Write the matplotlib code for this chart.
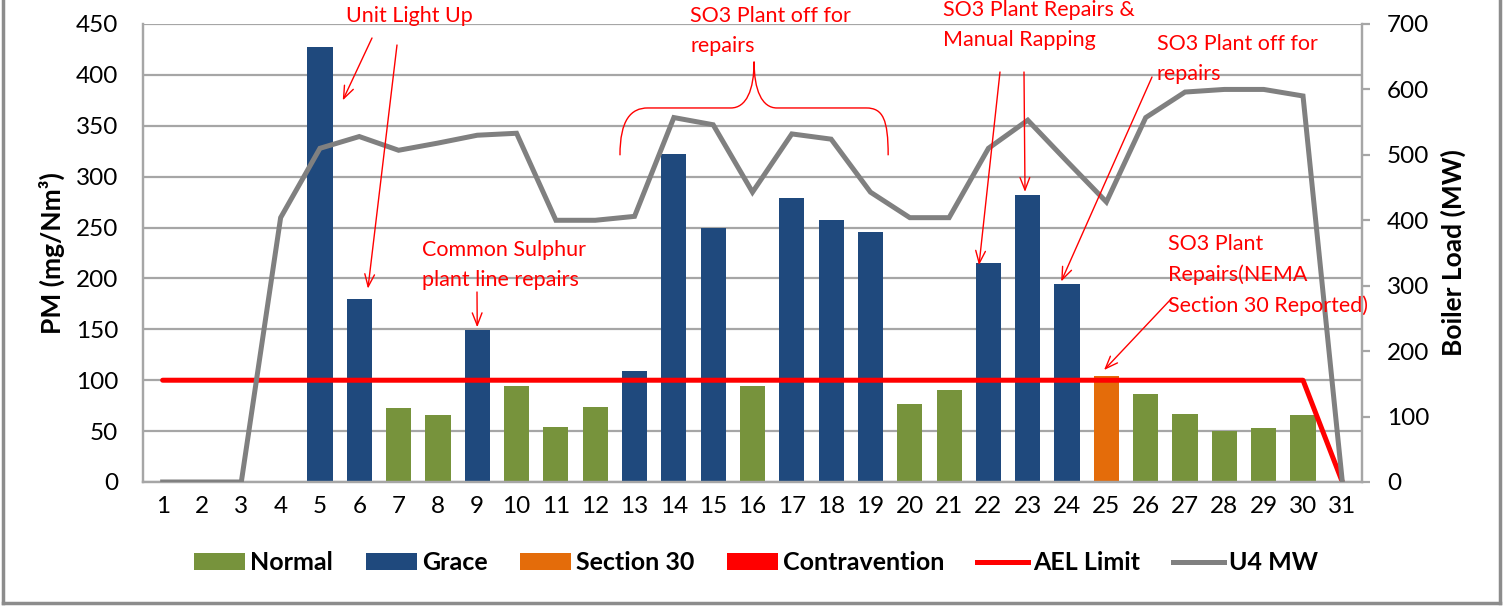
import matplotlib
matplotlib.use("Agg")
import matplotlib.pyplot as plt
import matplotlib.transforms as mtransforms
from matplotlib.lines import Line2D
from matplotlib.patches import Patch, PathPatch
from matplotlib.path import Path
import numpy as np

# ---- data -----------------------------------------------------------------
days = list(range(1, 32))
pm = [0, 0, 0, 0, 427, 180, 73, 66, 149, 94, 54, 74, 109, 322, 250, 94,
      279, 257, 246, 77, 90, 215, 282, 195, 104, 86, 67, 50, 53, 66, 0]
status = ["Normal", "Normal", "Normal", "Normal", "Grace", "Grace", "Normal",
          "Normal", "Grace", "Normal", "Normal", "Normal", "Grace", "Grace",
          "Grace", "Normal", "Grace", "Grace", "Grace", "Normal", "Normal",
          "Grace", "Grace", "Grace", "Section 30", "Normal", "Normal",
          "Normal", "Normal", "Normal", "Normal"]
ael_limit = [100] * 30 + [0]
u4_mw = [0, 0, 0, 404, 510, 528, 507, 518, 530, 533, 400, 400, 406, 557,
         546, 443, 532, 524, 443, 404, 404, 510, 553, 490, 428, 557, 596,
         600, 600, 590, 0]
categories = ["Normal", "Grace", "Section 30", "Contravention"]
cat_colors = {"Normal": "#77933C", "Grace": "#1F497D",
              "Section 30": "#E46C0A", "Contravention": "#FF0000"}

W, H = 1505, 606
plt.rcParams["font.family"] = ["Lato", "DejaVu Sans"]

fig = plt.figure(figsize=(W / 100, H / 100), dpi=100)
ax = fig.add_axes([143 / W, 1 - 482 / H, (1362 - 143) / W, (482 - 24) / H])
ax2 = ax.twinx()

grid_c = "#A6A6A6"

# bars by category
for cat in categories:
    xs = [d for d, s in zip(days, status) if s == cat]
    ys = [v for v, s in zip(pm, status) if s == cat]
    ax.bar(xs, ys, width=0.64, color=cat_colors[cat], zorder=2)

ax.plot(days, ael_limit, color="#FF0000", lw=3.6, zorder=3,
        solid_capstyle="round")
ax2.plot(days, u4_mw, color="#808080", lw=3.6, zorder=3,
         solid_joinstyle="miter")

ax.set_xlim(0.5, 31.5)
ax.set_ylim(0, 450)
ax.set_yticks(np.arange(0, 451, 50))
ax2.set_ylim(0, 700)
ax2.set_yticks(np.arange(0, 701, 100))
ax.set_xticks(days)
ax.set_xticklabels([str(d) for d in days])
ax.grid(axis="y", color=grid_c, lw=1.6, zorder=0)
ax.set_axisbelow(True)

for a in (ax, ax2):
    for sp in a.spines.values():
        sp.set_color(grid_c)
        sp.set_linewidth(1.6)
    a.spines["top"].set_visible(False)
ax.tick_params(axis="y", length=0, labelsize=17.5, pad=18)
ax.tick_params(axis="x", length=0, labelsize=17.5, pad=10)
ax2.tick_params(axis="y", length=6, width=1.6, color=grid_c, labelsize=17.5,
                pad=12)

ax.set_ylabel("PM (mg/Nm³)", fontsize=19, fontweight="bold", labelpad=8)
ax2.set_ylabel("Boiler Load (MW)", fontsize=19, fontweight="bold",
               labelpad=8)

# ---- annotations ----------------------------------------------------------
px = mtransforms.Affine2D().scale(1 / W, -1 / H).translate(0, 1) + fig.transFigure
red = "#FF0000"
afs = 15.5


def note(text, x, y, ha="left"):
    fig.text(x, y, text, transform=px, color=red, fontsize=afs, ha=ha,
             va="center", linespacing=1.65)


def arrow(tip, start):
    ax2.annotate("", xy=tip, xycoords=ax.transData, xytext=start,
                 textcoords=px,
                 arrowprops=dict(arrowstyle="->,head_length=0.9,head_width=0.35",
                                 color=red, lw=1.0, shrinkA=0, shrinkB=0))


note("Unit Light Up", 409, 16, ha="center")
arrow((5.58, 375), (372, 38))
arrow((6.22, 190), (397, 45))

note("Common Sulphur\nplant line repairs", 422, 265)
arrow((9.0, 152), (477, 292))

note("SO3 Plant off for\nrepairs", 690, 31)
note("SO3 Plant Repairs &\nManual Rapping", 943, 25)
arrow((21.76, 213), (1000, 72))
arrow((22.93, 285), (1024, 72))

note("SO3 Plant off for\nrepairs", 1157, 59)
arrow((23.85, 197), (1152, 77))

note("SO3 Plant\nRepairs(NEMA\nSection 30 Reported)", 1168, 275)
arrow((24.94, 110), (1172, 298))

# curly brace over days 13-19
verts = [(12.63, 321), (12.63, 356), (12.91, 367.5), (13.34, 367.5),
         (15.45, 367.5),
         (15.84, 367.5), (16.04, 385), (16.04, 413),
         (16.04, 385), (16.24, 367.5), (16.62, 367.5),
         (18.89, 367.5),
         (19.32, 367.5), (19.45, 356), (19.45, 321)]
codes = [Path.MOVETO, Path.CURVE4, Path.CURVE4, Path.CURVE4, Path.LINETO,
         Path.CURVE4, Path.CURVE4, Path.CURVE4,
         Path.CURVE4, Path.CURVE4, Path.CURVE4, Path.LINETO,
         Path.CURVE4, Path.CURVE4, Path.CURVE4]
ax.add_patch(PathPatch(Path(verts, codes), fill=False, edgecolor=red, lw=1.0,
                       zorder=5, clip_on=False))

# ---- legend ---------------------------------------------------------------
handles = [Patch(facecolor=cat_colors[c], edgecolor="none") for c in categories]
handles += [Line2D([], [], color="#FF0000", lw=3.6),
            Line2D([], [], color="#808080", lw=3.6)]
labels = categories + ["AEL Limit", "U4 MW"]
fig.legend(handles, labels, loc="center", bbox_to_anchor=(756 / W, 1 - 563 / H),
           ncol=6, frameon=False, prop={"size": 18, "weight": "bold"},
           handlelength=2.05, handleheight=0.68, handletextpad=0.2,
           columnspacing=1.3)

# outer chart frame
for xs, ys in [((3, 3), (0, 603)), ((3, 1500), (603, 603)),
               ((1500, 1500), (0, 603))]:
    fig.add_artist(Line2D(xs, ys, transform=px, color="#8C8C8C", lw=2.5))

fig.savefig("out.png", dpi=100)
